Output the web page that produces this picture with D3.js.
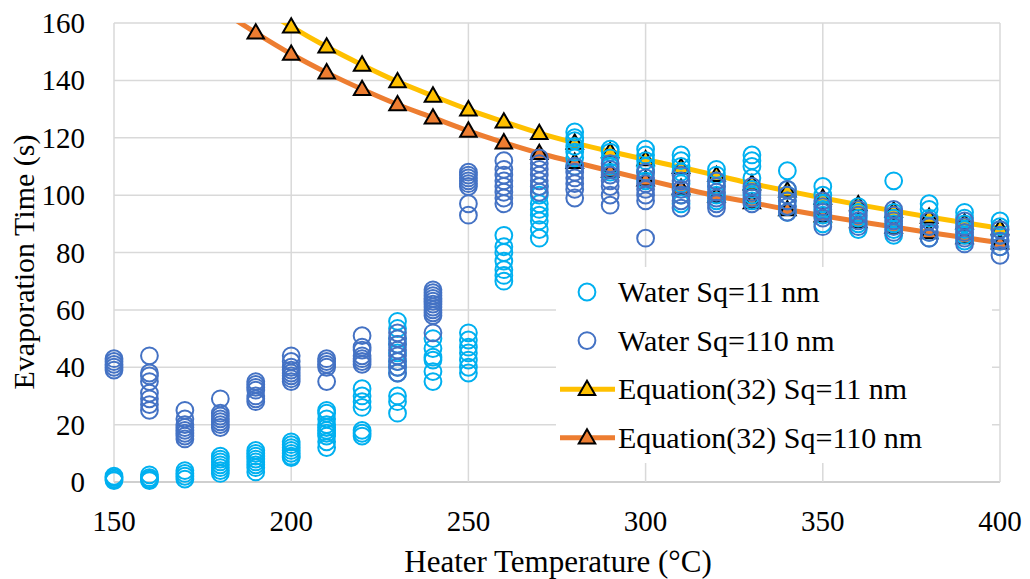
<!DOCTYPE html>
<html>
<head>
<meta charset="utf-8">
<script src="https://cdn.jsdelivr.net/npm/d3@7"></script>
</head>
<body style="margin:0">
<svg id="chart" width="1030" height="579"></svg>
<script>
// Measured heater temperatures (deg C) for the droplet runs
const temperatures = [150, 160, 170, 180, 190, 200, 210, 220, 230, 240, 250, 260, 270,
                      280, 290, 300, 310, 320, 330, 340, 350, 360, 370, 380, 390, 400];

// Evaporation times (s), surface roughness Sq = 11 nm, one list per temperature
const waterSq11 = [
  [0.5, 1, 1.5, 2],
  [0.5, 1, 1.5, 2.5],
  [1, 2, 3, 4],
  [3, 4, 5, 6, 7, 8, 9],
  [3.5, 5, 6, 7, 8, 9, 10, 11],
  [8.5, 9, 10, 11, 12, 13, 14],
  [12, 14, 16, 17, 18, 19, 20, 22, 24, 25],
  [16, 17, 18, 26, 28, 30, 32.5],
  [24, 28, 30, 38, 40, 42, 45, 48, 50, 53.5, 56],
  [35, 38.5, 42.5, 43.5, 46.5, 50],
  [38, 40, 42.5, 45, 47, 49.5, 52],
  [70, 72, 74, 77, 80, 82, 86],
  [85, 88, 91, 93, 95, 97, 100, 103],
  [110, 113, 115, 117, 119, 120, 122],
  [108, 110, 113, 115, 116],
  [105, 108, 110, 112, 114, 116],
  [97, 100, 104, 108, 110, 112, 114],
  [98, 100, 103, 105, 107, 109],
  [98, 100, 102, 106, 110, 112, 114],
  [94, 96, 98, 100, 102, 108.5],
  [90, 93, 95, 97, 100, 103],
  [88, 90, 92, 94, 96],
  [86, 88, 90, 92, 94, 105],
  [85, 87, 89, 92, 95, 97],
  [84, 86, 88, 90, 92, 94],
  [82, 84, 86, 88, 89, 91]
];

// Evaporation times (s), surface roughness Sq = 110 nm
const waterSq110 = [
  [39, 40, 41, 42, 43],
  [25, 27, 29, 31, 35, 37, 38, 44],
  [15, 16, 17, 18, 19, 20, 22, 25],
  [19, 20, 21, 22, 23, 24, 29],
  [28, 29, 30, 32, 33, 34, 35],
  [35, 36, 37, 38, 39, 40, 42, 44],
  [35, 40, 41, 42, 43],
  [41, 42, 43, 44, 46, 47, 51],
  [38, 40, 42, 44, 46, 48, 50, 52],
  [52, 58, 59, 60, 61, 62, 63, 64, 65, 66, 67],
  [93, 97, 103, 104, 105, 106, 107, 108],
  [97, 99, 101, 103, 105, 107, 109, 112],
  [101, 103, 105, 107, 109, 111, 113],
  [99, 102, 104, 106, 108, 110],
  [96.5, 100, 103, 105, 107, 109, 111],
  [85, 98, 100, 102, 104, 106, 108],
  [95.5, 98, 100, 102, 105, 107],
  [95.5, 97, 99, 101, 103, 105],
  [97, 99, 101, 103],
  [94, 96, 98, 100, 102],
  [89, 92, 94, 96, 98],
  [89, 91, 93, 95],
  [87, 89, 91, 93, 95],
  [85, 87, 89, 91],
  [83, 85, 87, 89, 91],
  [79, 82, 84, 86, 88]
];

// Model prediction, Equation (32)
const eqTemperatures = [180, 190, 200, 210, 220, 230, 240, 250, 260, 270, 280, 290,
                        300, 310, 320, 330, 340, 350, 360, 370, 380, 390, 400];
const eqSq11  = [174, 166.5, 158.7, 151.7, 145.4, 139.6, 134.6, 129.8, 125.6, 121.6, 118.2, 115.2,
                 112.4, 109.7, 106.9, 104, 101.5, 99, 96.7, 94.5, 92.4, 90.4, 88.4];
const eqSq110 = [164.5, 156.6, 149.2, 142.7, 136.9, 131.6, 127, 122.4, 118.3, 114.6, 111.5, 108.4,
                 105.4, 102.5, 99.7, 97.4, 95, 92.8, 90.8, 88.9, 87, 85.2, 83.4];

const xTicks = [150, 200, 250, 300, 350, 400];
const yTicks = [0, 20, 40, 60, 80, 100, 120, 140, 160];

const seriesNames = ["Water Sq=11 nm", "Water Sq=110 nm", "Equation(32) Sq=11 nm", "Equation(32) Sq=110 nm"];
const xTitle = "Heater Temperature (\u00B0C)";
const yTitle = "Evaporation Time (s)";
const colors = { light: "#00B0F0", dark: "#4472C4", yellow: "#FFC000", orange: "#ED7D31" };
const FONT = '"Times New Roman"';

const svg = d3.select("#chart");
const plot = { left: 114, right: 1000, top: 23, bottom: 482 };

const x = d3.scaleLinear().domain([150, 400]).range([plot.left, plot.right]);
const y = d3.scaleLinear().domain([0, 160]).range([plot.bottom, plot.top]);

// Text first, so the labels are laid out before the marks are added
function label(parent) {
  return parent.append("text").style("font-family", FONT);
}

const xLabels = svg.append("g");
xTicks.forEach(t => {
  label(xLabels).attr("x", x(t)).attr("y", plot.bottom + 49).attr("text-anchor", "middle")
    .attr("font-size", 29).text(x.tickFormat()(t));
});
const yLabels = svg.append("g");
yTicks.forEach(t => {
  label(yLabels).attr("x", plot.left - 29).attr("y", y(t) + 10).attr("text-anchor", "end")
    .attr("font-size", 29).text(y.tickFormat()(t));
});
label(svg).attr("x", 558).attr("y", 572).attr("text-anchor", "middle")
  .attr("font-size", 31).text(xTitle);
label(svg).attr("transform", "translate(34,262) rotate(-90)")
  .attr("text-anchor", "middle").attr("font-size", 30).text(yTitle);

// Plot layer, inserted beneath the labels
const layer = svg.insert("g", ":first-child");

// Gridlines
layer.selectAll("line.h").data(yTicks).join("line").attr("class", "h")
  .attr("x1", plot.left).attr("x2", plot.right)
  .attr("y1", d => y(d)).attr("y2", d => y(d))
  .attr("stroke", d => d === 0 ? "#BFBFBF" : "#D9D9D9").attr("stroke-width", 1.5);
layer.selectAll("line.v").data(xTicks).join("line").attr("class", "v")
  .attr("y1", plot.top).attr("y2", plot.bottom)
  .attr("x1", d => x(d)).attr("x2", d => x(d))
  .attr("stroke", "#D9D9D9").attr("stroke-width", 1.5);

// Clip for the model curves
layer.append("clipPath").attr("id", "plotClip").append("rect")
  .attr("x", plot.left).attr("y", plot.top)
  .attr("width", plot.right - plot.left).attr("height", plot.bottom - plot.top);

const triangle = d3.symbol().type(d3.symbolTriangle).size(118);
const line = d3.line().x(d => x(d[0])).y(d => y(d[1])).curve(d3.curveCatmullRom.alpha(0.5));

function drawEquation(values, color) {
  const pts = eqTemperatures.map((t, i) => [t, values[i]]);
  layer.append("path").datum(pts).attr("d", line)
    .attr("fill", "none").attr("stroke", color).attr("stroke-width", 5)
    .attr("clip-path", "url(#plotClip)");
  layer.append("g").selectAll("path").data(pts.filter(p => p[1] <= 160)).join("path")
    .attr("d", triangle)
    .attr("transform", d => `translate(${x(d[0])},${y(d[1]) + 1})`)
    .attr("fill", color).attr("stroke", "#000").attr("stroke-width", 2);
}
drawEquation(eqSq11, colors.yellow);
drawEquation(eqSq110, colors.orange);

function drawScatter(groups, color) {
  const pts = temperatures.flatMap((t, i) => groups[i].map(v => [t, v]));
  layer.append("g").selectAll("circle").data(pts).join("circle")
    .attr("cx", d => x(d[0])).attr("cy", d => y(d[1])).attr("r", 8.4)
    .attr("fill", "none").attr("stroke", color).attr("stroke-width", 2);
}
drawScatter(waterSq11, colors.light);
drawScatter(waterSq110, colors.dark);

// Legend
const legend = svg.append("g");
legend.append("rect").attr("x", 556).attr("y", 267).attr("width", 436).attr("height", 196).attr("fill", "#fff");
const rows = [
  { name: seriesNames[0], kind: "circle", color: colors.light },
  { name: seriesNames[1], kind: "circle", color: colors.dark },
  { name: seriesNames[2], kind: "line", color: colors.yellow },
  { name: seriesNames[3], kind: "line", color: colors.orange }
];
rows.forEach((r, i) => {
  const cy = 292 + i * 48.6;
  const g = legend.append("g");
  if (r.kind === "circle") {
    g.append("circle").attr("cx", 587).attr("cy", cy).attr("r", 8.4)
      .attr("fill", "none").attr("stroke", r.color).attr("stroke-width", 2);
  } else {
    g.append("line").attr("x1", 560).attr("x2", 615).attr("y1", cy).attr("y2", cy)
      .attr("stroke", r.color).attr("stroke-width", 5);
    g.append("path").attr("d", triangle).attr("transform", `translate(587,${cy + 1})`)
      .attr("fill", r.color).attr("stroke", "#000").attr("stroke-width", 2);
  }
  label(g).attr("x", 618).attr("y", cy + 10).attr("font-size", 30).text(r.name);
});
</script>
</body>
</html>
